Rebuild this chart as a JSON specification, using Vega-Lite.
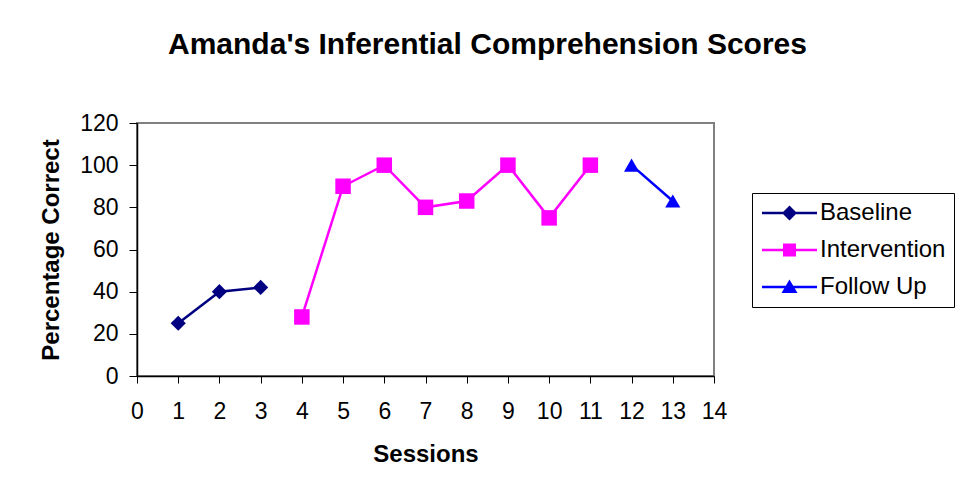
{
  "$schema": "https://vega.github.io/schema/vega-lite/v6.json",
  "autosize": "none",
  "width": 577,
  "height": 253,
  "padding": {"left": 137, "top": 123, "right": 244, "bottom": 121},
  "background": "white",
  "title": {
    "text": "Amanda's Inferential Comprehension Scores",
    "anchor": "middle",
    "frame": "group",
    "dx": 62,
    "offset": 52,
    "font": "Liberation Sans",
    "fontSize": 30,
    "fontWeight": "bold",
    "color": "black"
  },
  "config": {
    "view": {"stroke": "#808080", "strokeWidth": 2},
    "font": "Liberation Sans",
    "axis": {
      "domainColor": "black",
      "domainWidth": 1.5,
      "tickColor": "black",
      "tickWidth": 1,
      "tickSize": 7,
      "labelFont": "Liberation Sans",
      "labelFontSize": 23,
      "labelColor": "black",
      "labelFlush": false,
      "labelOverlap": false,
      "titleFont": "Liberation Sans",
      "titleFontWeight": "bold",
      "titleFontSize": 24,
      "titleColor": "black",
      "grid": false
    }
  },
  "data": {
    "values": [
      {"session": 1, "score": 25, "series": "Baseline"},
      {"session": 2, "score": 40, "series": "Baseline"},
      {"session": 3, "score": 42, "series": "Baseline"},
      {"session": 4, "score": 28, "series": "Intervention"},
      {"session": 5, "score": 90, "series": "Intervention"},
      {"session": 6, "score": 100, "series": "Intervention"},
      {"session": 7, "score": 80, "series": "Intervention"},
      {"session": 8, "score": 83, "series": "Intervention"},
      {"session": 9, "score": 100, "series": "Intervention"},
      {"session": 10, "score": 75, "series": "Intervention"},
      {"session": 11, "score": 100, "series": "Intervention"},
      {"session": 12, "score": 100, "series": "Follow Up"},
      {"session": 13, "score": 83, "series": "Follow Up"}
    ]
  },
  "encoding": {
    "x": {
      "field": "session",
      "type": "quantitative",
      "scale": {"domain": [0, 14], "nice": false, "zero": false},
      "axis": {
        "values": [0,1,2,3,4,5,6,7,8,9,10,11,12,13,14],
        "labelPadding": 17,
        "title": "Sessions",
        "titlePadding": 19
      }
    },
    "y": {
      "field": "score",
      "type": "quantitative",
      "scale": {"domain": [0, 120], "nice": false},
      "axis": {
        "values": [0,20,40,60,80,100,120],
        "tickSize": 8,
        "labelPadding": 11,
        "title": "Percentage Correct",
        "titlePadding": 16
      }
    },
    "color": {
      "field": "series",
      "type": "nominal",
      "scale": {
        "domain": ["Baseline", "Intervention", "Follow Up"],
        "range": ["#000080", "#FF00FF", "#0000FF"]
      },
      "legend": {
        "title": null,
        "orient": "none",
        "legendX": 615,
        "legendY": 70,
        "padding": 8,
        "strokeColor": "black",
        "fillColor": "white",
        "cornerRadius": 0,
        "symbolSize": 400,
        "labelOffset": 36,
        "labelFontSize": 24,
        "labelFont": "Liberation Sans",
        "labelColor": "black",
        "rowPadding": 13,
        "symbolStrokeWidth": 0,
        "encode": {
          "symbols": {
            "update": {
              "shape": {"signal": "datum.value === 'Baseline' ? 'M-1,-0.12H4.5V0.12H-1Z M1.75,-0.75L2.5,0L1.75,0.75L1,0Z' : datum.value === 'Intervention' ? 'M-1,-0.12H4.5V0.12H-1Z M1.1,-0.65H2.4V0.65H1.1Z' : 'M-1,-0.12H4.5V0.12H-1Z M1.75,-0.75L2.55,0.6H0.95Z'"},
              "fill": {"scale": "color", "field": "value"},
              "stroke": {"value": "transparent"},
              "strokeWidth": {"value": 0},
              "opacity": {"value": 1}
            }
          }
        }
      }
    }
  },
  "layer": [
    {
      "mark": {"type": "line", "strokeWidth": 2.5}
    },
    {
      "transform": [{"filter": "datum.series === 'Baseline'"}],
      "mark": {"type": "point", "filled": true, "opacity": 1, "size": 230, "shape": "diamond"}
    },
    {
      "transform": [{"filter": "datum.series === 'Intervention'"}],
      "mark": {"type": "point", "filled": true, "opacity": 1, "size": 240, "shape": "square"}
    },
    {
      "transform": [{"filter": "datum.series === 'Follow Up'"}],
      "mark": {"type": "point", "filled": true, "opacity": 1, "size": 230, "shape": "triangle-up"}
    }
  ]
}
